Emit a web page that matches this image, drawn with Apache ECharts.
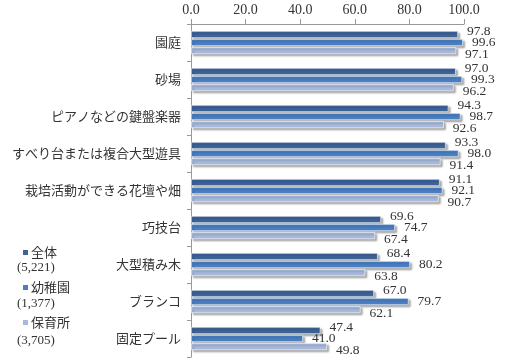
<!DOCTYPE html>
<html><head><meta charset="utf-8">
<script src="https://cdn.jsdelivr.net/npm/echarts@6/dist/echarts.min.js"></script>
<style>html,body{margin:0;padding:0;background:#fff}#c{width:510px;height:361px}</style>
</head><body><div id="c"></div>
<script>
const categories = ['園庭','砂場','ピアノなどの鍵盤楽器','すべり台または複合大型遊具','栽培活動ができる花壇や畑','巧技台','大型積み木','ブランコ','固定プール'];
const seriesNames = ['全体','幼稚園','保育所'];
const seriesCounts = ['(5,221)','(1,377)','(3,705)'];
const total = [97.8,97.0,94.3,93.3,91.1,69.6,68.4,67.0,47.4];
const kinder = [99.6,99.3,98.7,98.0,92.1,74.7,80.2,79.7,41.0];
const nursery = [97.1,96.2,92.6,91.4,90.7,67.4,63.8,62.1,49.8];
const xTicks = [0,20,40,60,80,100];

const colors = ['#3d6399','#4a7fc4','#a7b9dc'];
const serif = '"Liberation Serif","DejaVu Serif",serif';
const jp = '"Noto Sans CJK JP",sans-serif';
const values = [total, kinder, nursery];
const offsets = [[0,-3],[0,0],[0,4]];

const chart = echarts.init(document.getElementById('c'));
chart.setOption({
  animation:false,
  color: colors,
  grid:{left:191,right:46,top:24,bottom:4,containLabel:false},
  xAxis:{type:'value',position:'top',min:xTicks[0],max:xTicks[xTicks.length-1],interval:20,
    axisLine:{show:true,lineStyle:{color:'#999'}},
    axisTick:{show:true,length:5,lineStyle:{color:'#999'}},
    splitLine:{show:false},
    axisLabel:{formatter:v=>v.toFixed(1),fontFamily:serif,fontSize:14,color:'#333',margin:7}},
  yAxis:{type:'category',data:categories,inverse:true,
    axisLine:{show:true,lineStyle:{color:'#999'}},
    axisTick:{show:true,length:4,lineStyle:{color:'#999'}},
    axisLabel:{fontFamily:jp,fontSize:13,color:'#333',margin:10}},
  legend:{orient:'vertical',left:16,top:241,itemWidth:7,itemHeight:7,itemGap:22,
    icon:'rect',textStyle:{fontFamily:jp,fontSize:13,color:'#333',padding:[0,0,0,-3]},
    data:seriesNames},
  graphic: seriesCounts.map((t,i)=>({type:'text',left:17,top:261+i*36.5,
    style:{text:t,font:'13px '+serif,fill:'#333'}})),
  series: values.map((d,i)=>({
    name:seriesNames[i],type:'bar',data:d,barWidth:7,barGap:'15%',
    itemStyle:{color:colors[i],borderColor:'#fff',borderWidth:0.6,
      shadowColor:'rgba(0,0,0,0.35)',shadowBlur:2,shadowOffsetX:2,shadowOffsetY:2},
    label:{show:true,position:'right',distance:9,offset:offsets[i],
      formatter:p=>p.value.toFixed(1),fontFamily:serif,fontSize:13.5,color:'#333'}
  }))
});
</script></body></html>
